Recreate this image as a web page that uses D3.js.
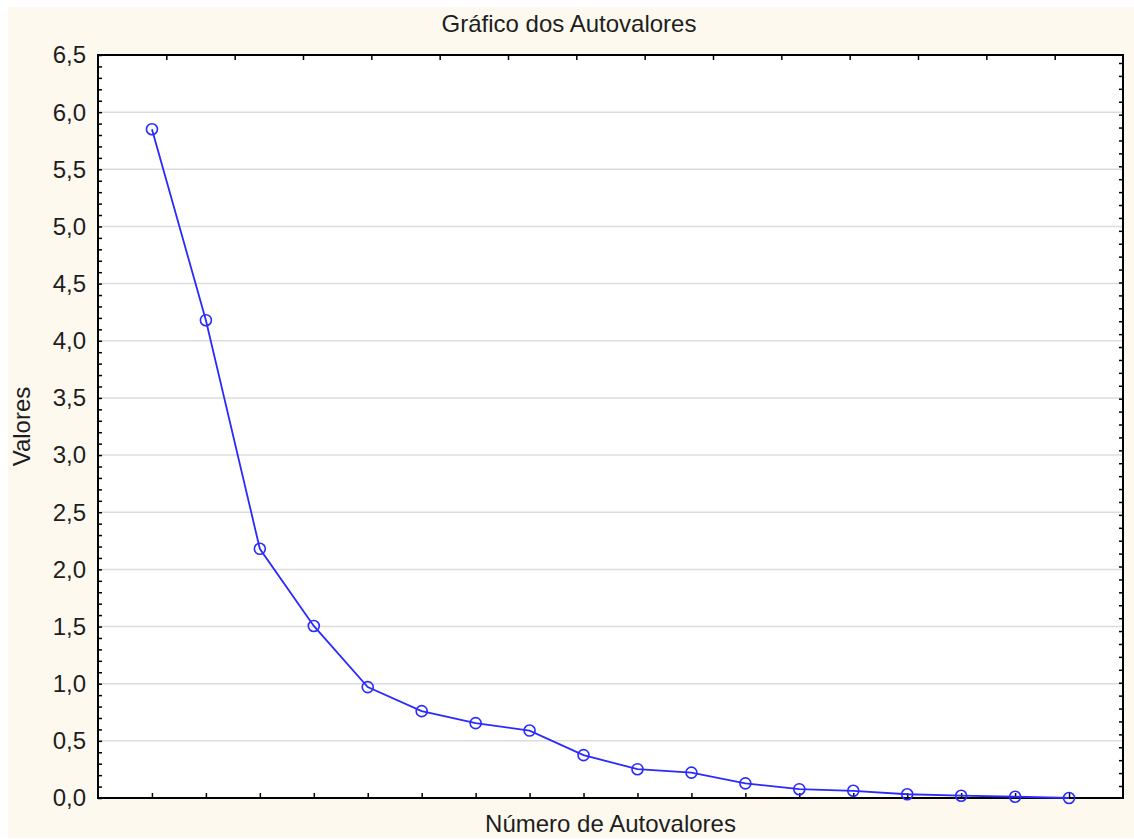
<!DOCTYPE html>
<html>
<head>
<meta charset="utf-8">
<script src="https://cdn.jsdelivr.net/npm/d3@7"></script>
<style>
  html, body { margin: 0; padding: 0; background: #ffffff; }
  svg { display: block; }
  text { font-family: "Liberation Sans", Arial, sans-serif; fill: #1e1e1e; }
</style>
</head>
<body>
<svg id="chart" width="1134" height="839"></svg>
<script>
// ---- data ----
const title = "Gráfico dos Autovalores";
const xLabel = "Número de Autovalores";
const yLabel = "Valores";
const eigenNumbers = [1,2,3,4,5,6,7,8,9,10,11,12,13,14,15,16,17,18];
const eigenValues = [5.85, 4.18, 2.18, 1.505, 0.97, 0.76, 0.655, 0.59, 0.375, 0.252, 0.222, 0.128, 0.077, 0.063, 0.033, 0.02, 0.011, 0.0];
const yTickValues = [0, 0.5, 1, 1.5, 2, 2.5, 3, 3.5, 4, 4.5, 5, 5.5, 6, 6.5];
const yTickLabels = ["0,0","0,5","1,0","1,5","2,0","2,5","3,0","3,5","4,0","4,5","5,0","5,5","6,0","6,5"];

// ---- layout ----
const W = 1134, H = 839;
const L = 98, R = 1123, T = 55, B = 798;
const svg = d3.select("#chart");

svg.append("rect").attr("x", 8).attr("y", 7).attr("width", W - 8).attr("height", H - 8)
  .attr("fill", "#fdf9ef");
svg.append("rect").attr("x", L).attr("y", T).attr("width", R - L).attr("height", B - T)
  .attr("fill", "#ffffff");

const x = d3.scaleLinear().domain([0, 19]).range([L, R]);
const y = d3.scaleLinear().domain([0, 6.5]).range([B, T]);

// gridlines
svg.append("g").selectAll("line")
  .data(yTickValues.filter(v => v > 0 && v < 6.5))
  .join("line")
  .attr("x1", L).attr("x2", R)
  .attr("y1", d => y(d)).attr("y2", d => y(d))
  .attr("stroke", "#dcdcdc").attr("stroke-width", 1.5);

// left axis (ticks inward)
const minorTicks = d3.range(0, 66).map(i => i / 10);
const leftAxis = d3.axisLeft(y).tickValues(minorTicks).tickSizeInner(-4).tickSizeOuter(0).tickFormat("");
const gl = svg.append("g").attr("transform", `translate(${L},0)`).call(leftAxis);
gl.select(".domain").remove();
gl.selectAll(".tick line").attr("stroke", "#000").attr("stroke-width", 1.5);

// y tick labels
svg.append("g").selectAll("text")
  .data(yTickValues)
  .join("text")
  .attr("x", 86).attr("y", d => y(d)).attr("dy", "0.35em")
  .attr("text-anchor", "end").attr("font-size", 24)
  .text((d, i) => yTickLabels[i]);

// bottom ticks (inward)
const bottomAxis = d3.axisBottom(x).tickValues(eigenNumbers).tickSizeInner(-5).tickSizeOuter(0).tickFormat("");
const gb = svg.append("g").attr("transform", `translate(0,${B})`).call(bottomAxis);
gb.select(".domain").remove();
gb.selectAll(".tick line").attr("stroke", "#000").attr("stroke-width", 1.5);

// top ticks (secondary axis, 15 divisions)
const xTop = d3.scaleLinear().domain([0, 15]).range([L, R]);
const topAxis = d3.axisTop(xTop).tickValues(d3.range(1, 15)).tickSizeInner(-5).tickSizeOuter(0).tickFormat("");
const gt = svg.append("g").attr("transform", `translate(0,${T})`).call(topAxis);
gt.select(".domain").remove();
gt.selectAll(".tick line").attr("stroke", "#000").attr("stroke-width", 1.5);

// right ticks (secondary axis)
const yRight = d3.scaleLinear().domain([0, 56]).range([786, 63]);
const rightAxis = d3.axisRight(yRight).tickValues(d3.range(0, 57)).tickSizeInner(-4).tickSizeOuter(0).tickFormat("");
const gr = svg.append("g").attr("transform", `translate(${R},0)`).call(rightAxis);
gr.select(".domain").remove();
gr.selectAll(".tick line").attr("stroke", "#000").attr("stroke-width", 1.5);

// frame
svg.append("rect").attr("x", L).attr("y", T).attr("width", R - L).attr("height", B - T)
  .attr("fill", "none").attr("stroke", "#000").attr("stroke-width", 2);

// series
const pts = eigenNumbers.map((n, i) => [n, eigenValues[i]]);
const line = d3.line().x(d => x(d[0])).y(d => y(d[1]));
svg.append("path").datum(pts).attr("d", line)
  .attr("fill", "none").attr("stroke", "#2a2aff").attr("stroke-width", 1.8);
svg.append("g").selectAll("circle").data(pts).join("circle")
  .attr("cx", d => x(d[0])).attr("cy", d => y(d[1])).attr("r", 5.5)
  .attr("fill", "none").attr("stroke", "#2a2aff").attr("stroke-width", 1.6);

// texts
svg.append("text").attr("x", 569).attr("y", 32).attr("text-anchor", "middle")
  .attr("font-size", 24).text(title);
svg.append("text").attr("x", (L + R) / 2).attr("y", 832).attr("text-anchor", "middle")
  .attr("font-size", 24).text(xLabel);
svg.append("text").attr("transform", `translate(30,${(T + B) / 2}) rotate(-90)`)
  .attr("text-anchor", "middle").attr("font-size", 24).text(yLabel);
</script>
</body>
</html>
